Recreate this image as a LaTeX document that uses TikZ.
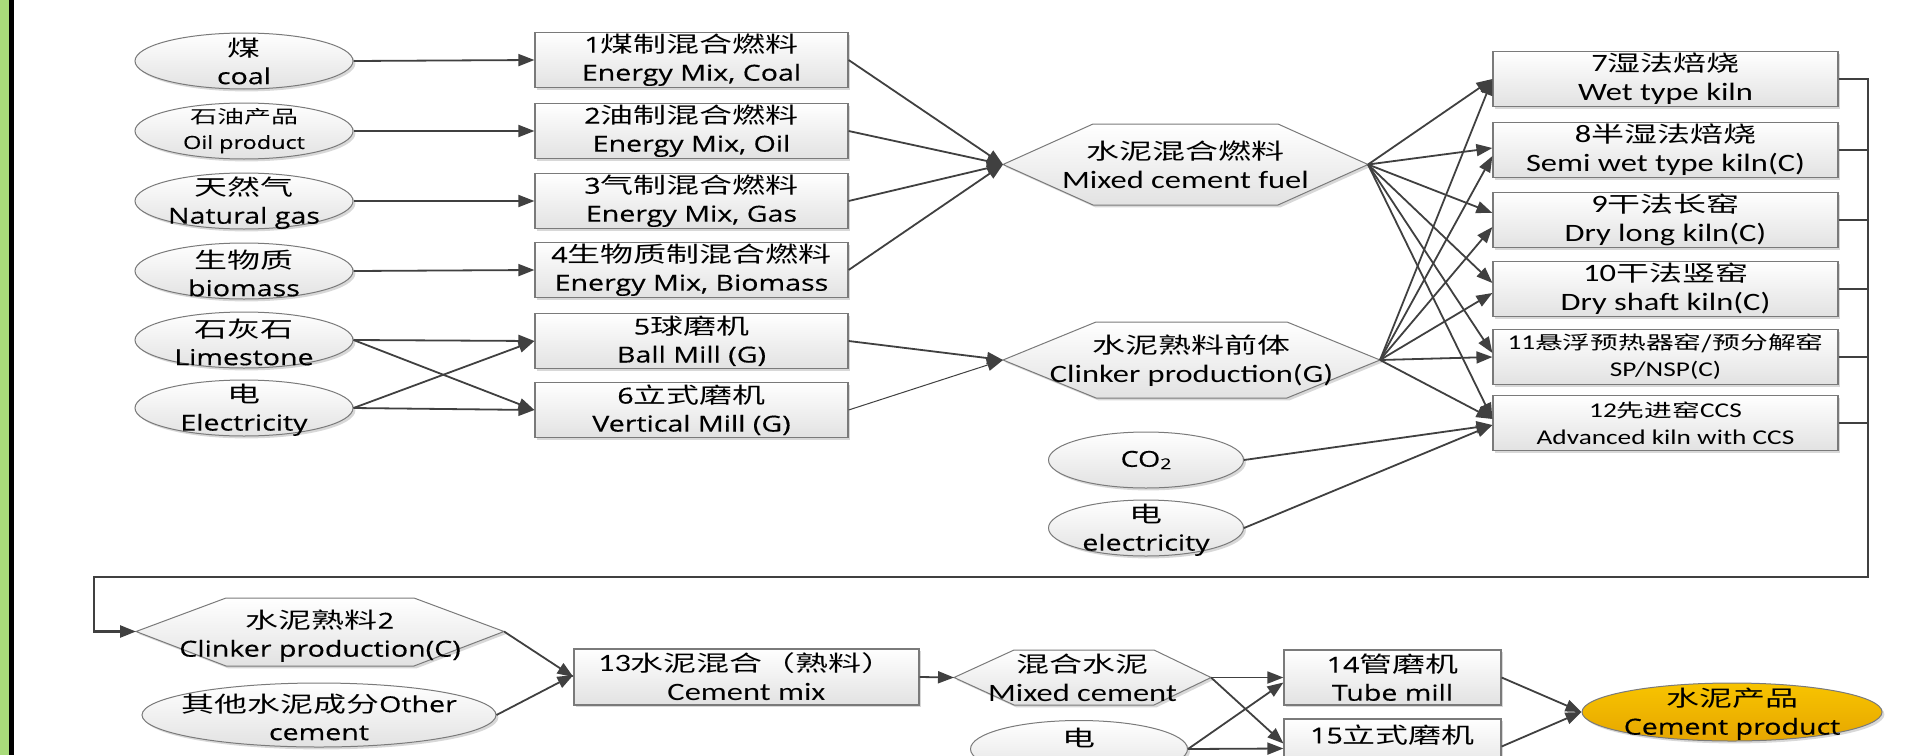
\documentclass[tikz,border=0pt]{standalone}
\usepackage{fontspec}
\setmainfont{Open Sans}[FakeStretch=1.3,FakeBold=0.4]
\newfontfamily\zhfont{Noto Sans CJK SC}[FakeStretch=1.5]
\newfontfamily\calfont{Carlito}[FakeStretch=1.3]
\usetikzlibrary{arrows.meta,shadows,shapes.geometric}
\newcommand\zh[1]{{\zhfont #1}}
\newcommand\zhb[1]{{\fontsize{11}{14.5}\selectfont\zhfont #1}}
\newcommand\zhs[1]{{\fontsize{9.25}{13}\selectfont\zhfont #1}}
\definecolor{linec}{HTML}{404040}
\definecolor{bordc}{HTML}{7A7A7A}
\definecolor{shadeb}{HTML}{E2E2E2}
\definecolor{greenbar}{HTML}{A9DB7A}
\definecolor{goldt}{HTML}{F8C400}
\definecolor{goldb}{HTML}{E6A600}
\tikzset{
  fa/.style={font=\fontsize{11}{14}\selectfont},
  fas/.style={font=\fontsize{9}{12.5}\selectfont},
  fb/.style={font=\calfont\fontsize{12.5}{14.5}\selectfont},
  fbs/.style={font=\calfont\fontsize{10.5}{13.5}\selectfont},
  sh/.style={drop shadow={shadow xshift=1.2pt,shadow yshift=-1.2pt,opacity=0.3,fill=black!50}},
  boxs/.style={rectangle, draw=bordc, line width=0.6pt, top color=white, bottom color=shadeb, sh, inner sep=0pt, align=center},
  kbox/.style={boxs, fb, minimum width=172.5pt, minimum height=27.5pt},
  abox/.style={boxs, fa, minimum width=156.5pt, minimum height=27.5pt},
  ells/.style={ellipse, draw=bordc, line width=0.5pt, top color=white, bottom color=shadeb, sh, inner sep=0pt},
  hexs/.style={draw=bordc, line width=0.5pt, top color=white, bottom color=shadeb, sh},
  txt/.style={inner sep=0pt, align=center},
  conn/.style={draw=linec, line width=0.9pt, -{Triangle[length=8pt,width=6pt]}},
  plainl/.style={draw=linec, line width=0.9pt},
  loopl/.style={draw=linec, line width=1.3pt},
}
\begin{document}
\begin{tikzpicture}[x=0.5pt,y=-0.5pt]
\useasboundingbox (0,0) rectangle (1909,755);
\fill[white] (0,0) rectangle (1909,755);
\fill[greenbar] (0,0) rectangle (9,755);
\fill[black] (9,0) rectangle (13.5,755);

% left ellipses
\node[ells, minimum width=109pt, minimum height=28pt] (e1) at (244,61) {};
\node[txt,fa] (e1t) at (e1) {\zh{煤}\\coal};
\node[ells, minimum width=109pt, minimum height=28pt] (e2) at (244,131) {};
\node[txt,fas] (e2t) at (e2) {\zh{石油产品}\\Oil product};
\node[ells, minimum width=109pt, minimum height=28pt] (e3) at (244,201) {};
\node[txt,fa] (e3t) at ([yshift=-1pt]e3) {\zh{天然气}\\Natural gas};
\node[ells, minimum width=109pt, minimum height=28pt] (e4) at (244,271) {};
\node[txt,fa] (e4t) at ([yshift=-1pt]e4) {\zh{生物质}\\biomass};
\node[ells, minimum width=109pt, minimum height=28pt] (e5) at (244,340) {};
\node[txt,fa] (e5t) at ([yshift=-1pt]e5) {\zh{石灰石}\\Limestone};
\node[ells, minimum width=109pt, minimum height=28pt] (e6) at (244,408) {};
\node[txt,fa] (e6t) at ([yshift=-1pt]e6) {\zh{电}\\Electricity};

% first boxes
\node[abox] (b1) at (691.5,60) {1\zh{煤制混合燃料}\\Energy Mix, Coal};
\node[abox] (b2) at (691.5,131) {2\zh{油制混合燃料}\\Energy Mix, Oil};
\node[abox] (b3) at (691.5,201) {3\zh{气制混合燃料}\\Energy Mix, Gas};
\node[abox] (b4) at (691.5,270) {4\zh{生物质制混合燃料}\\Energy Mix, Biomass};
\node[abox] (b5) at (691.5,341) {5\zh{球磨机}\\Ball Mill (G)};
\node[abox] (b6) at (691.5,410) {6\zh{立式磨机}\\Vertical Mill (G)};

% hexagon 1
\path[hexs] (1003,164.5) -- (1093,124) -- (1278,124) -- (1368,164.5) -- (1278,205) -- (1093,205) -- cycle;
\coordinate (h1w) at (1003,164.5);
\coordinate (h1e) at (1368,164.5);
\node[txt,fb] (h1) at (1185.5,165) {\zhb{水泥混合燃料}\\Mixed cement fuel};
% hexagon 2
\path[hexs] (1003,360) -- (1096,322) -- (1287,322) -- (1380,360) -- (1287,398) -- (1096,398) -- cycle;
\coordinate (h2w) at (1003,360);
\coordinate (h2e) at (1380,360);
\node[txt,fb] (h2) at (1191.5,361) {\zhb{水泥熟料前体}\\Clinker production(G)};

% kiln boxes
\node[kbox] (b7) at (1665.5,79) {7\zhb{湿法焙烧}\\Wet type kiln};
\node[kbox] (b8) at (1665.5,150) {8\zhb{半湿法焙烧}\\Semi wet type kiln(C)};
\node[kbox] (b9) at (1665.5,220) {9\zhb{干法长窑}\\Dry long kiln(C)};
\node[kbox] (b10) at (1665.5,289) {10\zhb{干法竖窑}\\Dry shaft kiln(C)};
\node[kbox,fbs] (b11) at (1665.5,357) {11\zhs{悬浮预热器窑/预分解窑}\\SP/NSP(C)};
\node[kbox,fbs] (b12) at (1665.5,423) {12\zhs{先进窑}CCS\\Advanced kiln with CCS};

% CO2 and electricity
\node[ells, minimum width=97.5pt, minimum height=28pt] (co) at (1146,460) {};
\node[txt,fa] (cot) at (co) {CO\raisebox{-0.2ex}{\fontsize{7.5}{8}\selectfont 2}};
\node[ells, minimum width=97.5pt, minimum height=28pt] (el) at (1146,528) {};
\node[txt,fa] (elt) at ([yshift=-1pt]el) {\zh{电}\\electricity};

% bottom row
\path[hexs] (136,631.5) -- (226,598) -- (414,598) -- (504,631.5) -- (414,666) -- (226,666) -- cycle;
\coordinate (h3w) at (136,631.5);
\coordinate (h3e) at (504,631.5);
\node[txt,fa] (h3) at (320,636) {\zh{水泥熟料}2\\Clinker production(C)};

\node[ells, minimum width=177pt, minimum height=32pt] (oc) at (319,715) {};
\node[txt,fa] (oct) at ([yshift=-1pt]oc) {\zh{其他水泥成分}Other\\cement};

\node[boxs,fb,minimum width=172.5pt,minimum height=28pt] (b13) at (746.5,677) {13\zhb{水泥混合（熟料）}\\Cement mix};

\path[hexs] (954,677.5) -- (1014,650) -- (1154,650) -- (1211,677.5) -- (1154,705) -- (1014,705) -- cycle;
\coordinate (h4w) at (954,677.5);
\coordinate (h4e) at (1211,677.5);
\node[txt,fb] (h4) at (1082.5,678) {\zhb{混合水泥}\\Mixed cement};

\node[boxs,fa,minimum width=108.5pt,minimum height=27.5pt] (b14) at (1392.5,677.5) {14\zh{管磨机}\\Tube mill};
\node[boxs,minimum width=108.5pt,minimum height=27.5pt] (b15) at (1392.5,746.5) {};
\node[txt,fa] (b15t) at (1392.5,735) {15\zh{立式磨机}};

\node[ells, minimum width=108.5pt, minimum height=28.5pt] (eb) at (1079,749) {};
\node[txt,fa] (ebt) at (1079,738) {\zh{电}};

\node[ellipse, draw=bordc, line width=0.5pt, top color=goldt, bottom color=goldb, sh, inner sep=0pt, minimum width=150pt, minimum height=29pt] (cp) at (1732,712) {};
\node[txt,fa] (cpt) at ([yshift=-1pt]cp) {\zh{水泥产品}\\Cement product};

% connectors: inputs
\draw[conn] (e1.east) -- (b1.west);
\draw[conn] (e2.east) -- (b2.west);
\draw[conn] (e3.east) -- (b3.west);
\draw[conn] (e4.east) -- (b4.west);
\draw[conn] (e5.east) -- (b5.west);
\draw[conn] (e5.east) -- (b6.west);
\draw[conn] (e6.east) -- (b5.west);
\draw[conn] (e6.east) -- (b6.west);
\foreach \k in {1,2,3,4} {\draw[conn] (b\k.east) -- (h1w);}
\draw[conn] (b5.east) -- (h2w);
\draw[conn, line width=0.5pt] (b6.east) -- (h2w);

% kilns
\draw[conn] (h1e) -- (b7.west);
\draw[conn] (h2e) -- (b7.west);
\draw[conn] (h1e) -- ([yshift=1pt]b8.west);
\draw[conn] (h2e) -- ([yshift=-3pt]b8.west);
\draw[conn] (h1e) -- ([yshift=3.5pt]b9.west);
\draw[conn] (h2e) -- ([yshift=-3.5pt]b9.west);
\draw[conn] (h1e) -- ([yshift=3pt]b10.west);
\draw[conn] (h2e) -- ([yshift=-2pt]b10.west);
\draw[conn] (h1e) -- ([yshift=2pt]b11.west);
\draw[conn] (h2e) -- (b11.west);
\draw[conn] (h1e) -- ([yshift=2pt]b12.west);
\draw[conn] (h2e) -- ([yshift=2pt]b12.west);
\draw[conn] (co.east) -- ([yshift=-1pt]b12.west);
\draw[conn] (el.east) -- ([yshift=-1pt]b12.west);

% loop back
\coordinate (lpb) at (1868,577);
\coordinate (lpc) at (94,577);
\foreach \k in {8,9,10,11,12} {\draw[plainl] (b\k.east) -- (b\k.east -| lpb);}
\draw[loopl, -{Triangle[length=8pt,width=6pt]}] (b7.east) -- (b7.east -| lpb) -- (lpb) -- (lpc) -- (lpc |- h3w) -- (h3w);

% bottom connectors
\draw[conn] (h3e) -- (b13.west);
\draw[conn] (oc.east) -- ([yshift=1pt]b13.west);
\draw[conn] (b13.east) -- (h4w);
\draw[conn] (h4e) -- (b14.west);
\draw[conn] (h4e) -- ([yshift=1.5pt]b15.west);
\draw[conn] (eb.east) -- ([yshift=-1pt]b15.west);
\draw[conn] (eb.east) -- ([yshift=-2.5pt]b14.west);
\draw[conn] (b14.east) -- (cp.west);
\draw[conn] (b15.east) -- (cp.west);
\end{tikzpicture}
\end{document}
